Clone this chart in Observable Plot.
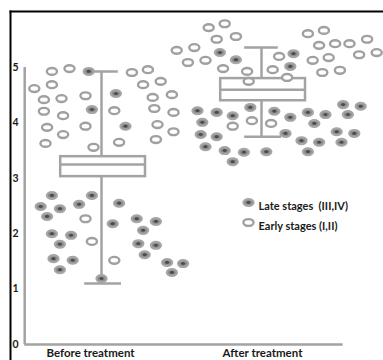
<!DOCTYPE html>
<html>
<head>
<meta charset="utf-8">
<script src="https://cdn.jsdelivr.net/npm/d3@7"></script>
<script src="https://cdn.jsdelivr.net/npm/@observablehq/plot@0.6"></script>
<style>
  html, body { margin: 0; padding: 0; background: #fff; }
  #chart { width: 383px; height: 360px; }
  svg text { font-family: Lato, "Open Sans", sans-serif; }
</style>
</head>
<body>
<div id="chart"></div>
<script>
// Groups and their positions along x (1 = before, 2 = after)
const groups = ["Before treatment", "After treatment"];
const groupPos = [1, 2];

// Points: [horizontal jitter from group centre, score]
const beforeEarly = [
  [-0.31, 4.93], [-0.20, 4.98], [0.19, 4.91], [0.29, 4.96],
  [-0.42, 4.62], [-0.31, 4.69], [0.26, 4.69], [0.37, 4.75],
  [-0.36, 4.42], [-0.25, 4.44], [-0.10, 4.49], [0.32, 4.46], [0.44, 4.51],
  [-0.36, 4.21], [-0.24, 4.13], [0.08, 4.22], [0.33, 4.26], [0.45, 4.19],
  [-0.34, 3.92], [-0.24, 3.79], [-0.10, 3.94], [0.35, 3.97], [0.45, 3.84],
  [-0.35, 3.63], [-0.05, 3.56], [0.11, 3.65], [0.34, 3.70],
  [-0.10, 2.27], [-0.06, 1.86], [0.08, 1.52]
];
const beforeLate = [
  [-0.08, 4.93], [0.09, 4.53], [-0.06, 4.24], [0.15, 3.94],
  [-0.31, 2.69], [-0.06, 2.69], [-0.38, 2.49], [-0.26, 2.45], [-0.14, 2.53],
  [0.11, 2.55], [-0.34, 2.31], [0.07, 2.18], [0.22, 2.27], [0.34, 2.22],
  [-0.31, 2.00], [-0.19, 1.97], [0.26, 2.06], [-0.26, 1.81], [0.23, 1.82],
  [0.34, 1.79], [0.27, 1.62], [-0.30, 1.55], [-0.18, 1.52], [-0.26, 1.35],
  [0.41, 1.48], [0.51, 1.46], [0.44, 1.30], [0.00, 1.19]
];
const afterEarly = [
  [-0.33, 5.72], [-0.23, 5.79], [-0.28, 5.51], [-0.16, 5.56],
  [-0.53, 5.31], [-0.42, 5.36], [-0.46, 5.09], [-0.35, 5.13],
  [-0.24, 4.98], [-0.09, 4.93], [-0.08, 4.75], [0.11, 5.20], [0.07, 4.96],
  [0.16, 4.82], [0.29, 5.61], [0.39, 5.67], [0.36, 5.40], [0.46, 5.43],
  [0.55, 5.43], [0.66, 5.51], [0.32, 5.13], [0.42, 5.18], [0.61, 5.23],
  [0.72, 5.27], [0.38, 4.91], [0.49, 4.95],
  [-0.18, 3.94], [-0.06, 4.04], [0.06, 3.99]
];
const afterLate = [
  [-0.26, 5.27], [-0.16, 5.14], [0.20, 5.25], [0.18, 5.02],
  [-0.40, 4.22], [-0.28, 4.19], [-0.18, 4.13], [-0.07, 4.28], [0.08, 4.21],
  [0.18, 4.10], [0.29, 4.19], [0.40, 4.15], [0.54, 4.15], [0.51, 4.33],
  [0.62, 4.30], [-0.37, 4.01], [0.33, 3.99], [-0.38, 3.79], [-0.28, 3.75],
  [0.15, 3.81], [0.25, 3.68], [0.36, 3.65], [0.47, 3.84], [0.58, 3.81],
  [0.50, 3.65], [-0.35, 3.57], [-0.23, 3.50], [-0.11, 3.47], [0.03, 3.48],
  [0.29, 3.48], [-0.18, 3.30]
];

// Box-and-whisker summaries per group
const whiskerLow = [1.10, 3.75];
const quartile1 = [3.03, 4.40];
const medians = [3.25, 4.60];
const quartile3 = [3.39, 4.80];
const whiskerHigh = [4.93, 5.36];

const yTicks = [0, 1, 2, 3, 4, 5];
const legendLabels = ["Late stages\u00a0 (III,IV)", "Early stages (I,II)"];

function toPoints(list, g, stage) {
  return list.map(([j, v]) => ({x: groupPos[g] + j, y: v, stage}));
}
const points = [
  ...toPoints(beforeEarly, 0, "early"),
  ...toPoints(beforeLate, 0, "late"),
  ...toPoints(afterEarly, 1, "early"),
  ...toPoints(afterLate, 1, "late")
];
const early = points.filter(d => d.stage === "early");
const late = points.filter(d => d.stage === "late");
const boxes = groups.map((g, i) => ({
  x: groupPos[i], lo: whiskerLow[i], q1: quartile1[i], med: medians[i],
  q3: quartile3[i], hi: whiskerHigh[i]
}));

// Flattened ellipse marker
const ellipse = {
  draw(ctx, size) {
    const r = Math.sqrt(size / Math.PI);
    const rx = r * 1.1, ry = r * 0.74, k = 0.5523;
    ctx.moveTo(rx, 0);
    ctx.bezierCurveTo(rx, ry * k, rx * k, ry, 0, ry);
    ctx.bezierCurveTo(-rx * k, ry, -rx, ry * k, -rx, 0);
    ctx.bezierCurveTo(-rx, -ry * k, -rx * k, -ry, 0, -ry);
    ctx.bezierCurveTo(rx * k, -ry, rx, -ry * k, rx, 0);
    ctx.closePath();
  }
};

const boxHalf = 0.265, capHalf = 0.105;
const axisX = 0.52, axisEnd = 2.51;
const grey = "#a3a3a3";
const R = 4.6;
const ring = {r: R, symbol: ellipse, fill: "#fff", stroke: "#a0a0a0", strokeWidth: 2.4};
const filled = {r: R, symbol: ellipse, fill: "#8c8c8c", stroke: "#a6a6a6", strokeWidth: 2.2};
const core = {r: 1.9, symbol: ellipse, fill: "#4a4a4a"};
const labelFont = {fontWeight: "bold", fill: "#1a1a1a"};

const chart = Plot.plot({
  width: 383,
  height: 360,
  marginLeft: 10,
  marginRight: 0,
  marginTop: 11,
  marginBottom: 0,
  x: {domain: [0.43125, 2.7625], axis: null},
  y: {domain: [-0.289, 6.011], axis: null},
  marks: [
    // outer frame lines
    Plot.frame({anchor: "top", stroke: "#000", strokeWidth: 2}),
    Plot.frame({anchor: "left", stroke: "#000", strokeWidth: 2}),
    // grey axis lines
    Plot.ruleX([axisX], {y1: 0, y2: 5, stroke: grey, strokeWidth: 2.5}),
    Plot.ruleY([0], {x1: axisX, x2: axisEnd, stroke: grey, strokeWidth: 2.5}),
    // y tick labels
    Plot.text(yTicks, {frameAnchor: "left", y: d => d, text: d => String(d), dx: 2,
      textAnchor: "start", fontSize: 10.5, ...labelFont}),
    // whiskers and caps
    Plot.ruleX(boxes, {x: "x", y1: "lo", y2: "q1", stroke: grey, strokeWidth: 2.5}),
    Plot.ruleX(boxes, {x: "x", y1: "q3", y2: "hi", stroke: grey, strokeWidth: 2.5}),
    Plot.ruleY(boxes, {y: "lo", x1: d => d.x - capHalf, x2: d => d.x + capHalf + 0.02, stroke: grey, strokeWidth: 2.5}),
    Plot.ruleY(boxes, {y: "hi", x1: d => d.x - capHalf, x2: d => d.x + capHalf, stroke: grey, strokeWidth: 2.5}),
    // boxes
    Plot.rect(boxes, {x1: d => d.x - boxHalf + 0.01, x2: d => d.x + boxHalf + 0.01, y1: "q1", y2: "q3",
      fill: "#fff", stroke: grey, strokeWidth: 2.5}),
    Plot.ruleY(boxes, {y: "med", x1: d => d.x - boxHalf + 0.01, x2: d => d.x + boxHalf + 0.01, stroke: grey, strokeWidth: 2.5}),
    // patients
    Plot.dot(early, {x: "x", y: "y", ...ring}),
    Plot.dot(late, {x: "x", y: "y", ...filled}),
    Plot.dot(late, {x: "x", y: "y", ...core}),
    // legend
    Plot.dot([legendLabels[0]], {frameAnchor: "top-left", dx: 238, dy: 191, ...filled}),
    Plot.dot([legendLabels[0]], {frameAnchor: "top-left", dx: 238, dy: 191, ...core}),
    Plot.dot([legendLabels[1]], {frameAnchor: "top-left", dx: 238, dy: 211, ...ring}),
    Plot.text([legendLabels[0]], {frameAnchor: "top-left", dx: 248, dy: 191, text: d => d,
      textAnchor: "start", fontSize: 11, ...labelFont}),
    Plot.text([legendLabels[1]], {frameAnchor: "top-left", dx: 248, dy: 211, text: d => d,
      textAnchor: "start", fontSize: 11, ...labelFont}),
    // group labels
    Plot.text([groups[0]], {x: groupPos[0], frameAnchor: "bottom", dx: -11, dy: -4, text: d => d,
      fontSize: 11.5, ...labelFont}),
    Plot.text([groups[1]], {x: groupPos[1], frameAnchor: "bottom", dx: 1, dy: -4, text: d => d,
      fontSize: 11.5, ...labelFont})
  ]
});
document.getElementById("chart").appendChild(chart);
</script>
</body>
</html>
